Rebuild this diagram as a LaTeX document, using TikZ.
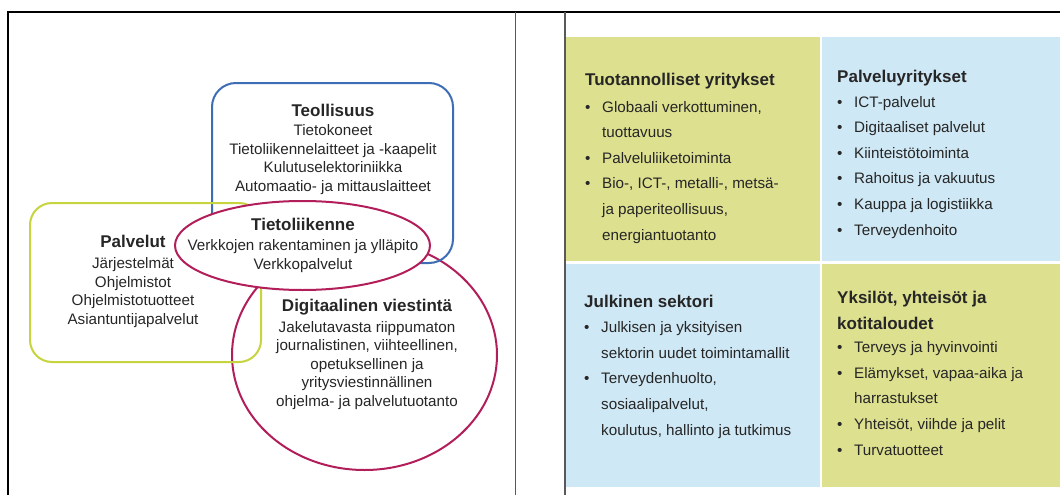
\documentclass[tikz,border=0pt]{standalone}
\usepackage{fontspec}
\setmainfont{Liberation Sans}

\definecolor{indblue}{HTML}{3D6DB5}
\definecolor{servgreen}{HTML}{C6D43E}
\definecolor{commred}{HTML}{B21E5A}
\definecolor{panelgreen}{HTML}{DDE08F}
\definecolor{panelblue}{HTML}{CFE8F5}
\definecolor{txt}{HTML}{262626}

\newcommand\blocktitle[1]{{\fontsize{17}{18}\selectfont\bfseries #1}}
\newcommand\bul{\makebox[17pt][l]{\textbullet}}
\newcommand\cont{\hspace*{17pt}}

% multi-line nodes are placed by the baseline of their last line
\tikzset{
  frameline/.style={line width=2.3pt, black, line join=miter},
  divider/.style={line width=1.4pt, black!65},
  sector/.style={line width=2pt},
  blocktext/.style={align=center, anchor=base, text=txt, inner sep=0pt,
    font=\fontsize{15.2}{18.5}\selectfont},
  paneltext/.style={align=left, anchor=base west, text=txt, inner sep=0pt,
    font=\fontsize{15.2}{25.6}\selectfont},
}

\begin{document}
\begin{tikzpicture}[x=1pt,y=-1pt]
\useasboundingbox (0,0) rectangle (1060,495);

% coloured four-field grid
\fill[panelgreen] (566,37)    rectangle (819.5,260.5);
\fill[panelblue]  (822,37)    rectangle (1060,260.5);
\fill[panelblue]  (566,263.5) rectangle (819.5,487);
\fill[panelgreen] (822,263.5) rectangle (1060,487);

% table frame
\draw[frameline] (1062,12) -- (8,12) -- (8,497);
\draw[divider] (515.5,12) -- (515.5,497);
\draw[divider] (565,12) -- (565,497);

% sector shapes
\draw[sector, commred] (364.5,355) ellipse [x radius=132.5pt, y radius=115pt];
\draw[sector, indblue, rounded corners=24pt] (212,83) rectangle (453,263);
\draw[sector, servgreen, rounded corners=22pt] (30,203) rectangle (261,362);
\draw[sector, commred, fill=white] (302.5,245.5) ellipse [x radius=127.5pt, y radius=44.5pt];

% sector texts
\node[blocktext] (ind) at (333,191)
  {\blocktitle{Teollisuus}\\[0.5pt]
   Tietokoneet\\
   Tietoliikennelaitteet ja -kaapelit\\
   Kulutuselektoriniikka\\
   Automaatio- ja mittauslaitteet};
\node[blocktext] (tel) at (303,269)
  {\blocktitle{Tietoliikenne}\\[1.5pt]
   Verkkojen rakentaminen ja ylläpito\\
   Verkkopalvelut};
\node[blocktext] (srv) at (133,324)
  {\blocktitle{Palvelut}\\[2.5pt]
   Järjestelmät\\
   Ohjelmistot\\
   Ohjelmistotuotteet\\
   Asiantuntijapalvelut};
\node[blocktext] (dig) at (367,406)
  {\blocktitle{Digitaalinen viestintä}\\[2.5pt]
   Jakelutavasta riippumaton\\
   journalistinen, viihteellinen,\\
   opetuksellinen ja\\
   yritysviestinnällinen\\
   ohjelma- ja palvelutuotanto};

% field texts
\node[paneltext] (prod) at (585,240)
  {\blocktitle{Tuotannolliset yritykset}\\[1pt]
   \bul Globaali verkottuminen,\\
   \cont tuottavuus\\
   \bul Palveluliiketoiminta\\
   \bul Bio-, ICT-, metalli-, metsä-\\
   \cont ja paperiteollisuus,\\
   \cont energiantuotanto};
\node[paneltext] (svc) at (837,235)
  {\blocktitle{Palveluyritykset}\\[-1.5pt]
   \bul ICT-palvelut\\
   \bul Digitaaliset palvelut\\
   \bul Kiinteistötoiminta\\
   \bul Rahoitus ja vakuutus\\
   \bul Kauppa ja logistiikka\\
   \bul Terveydenhoito};
\node[paneltext] (pub) at (584,435)
  {\blocktitle{Julkinen sektori}\\
   \bul Julkisen ja yksityisen\\
   \cont sektorin uudet toimintamallit\\
   \bul Terveydenhuolto,\\
   \cont sosiaalipalvelut,\\
   \cont koulutus, hallinto ja tutkimus};
\node[paneltext] (hh) at (837,455)
  {\blocktitle{Yksilöt, yhteisöt ja}\\
   \blocktitle{kotitaloudet}\\[-2pt]
   \bul Terveys ja hyvinvointi\\
   \bul Elämykset, vapaa-aika ja\\
   \cont harrastukset\\
   \bul Yhteisöt, viihde ja pelit\\
   \bul Turvatuotteet};
\end{tikzpicture}
\end{document}
